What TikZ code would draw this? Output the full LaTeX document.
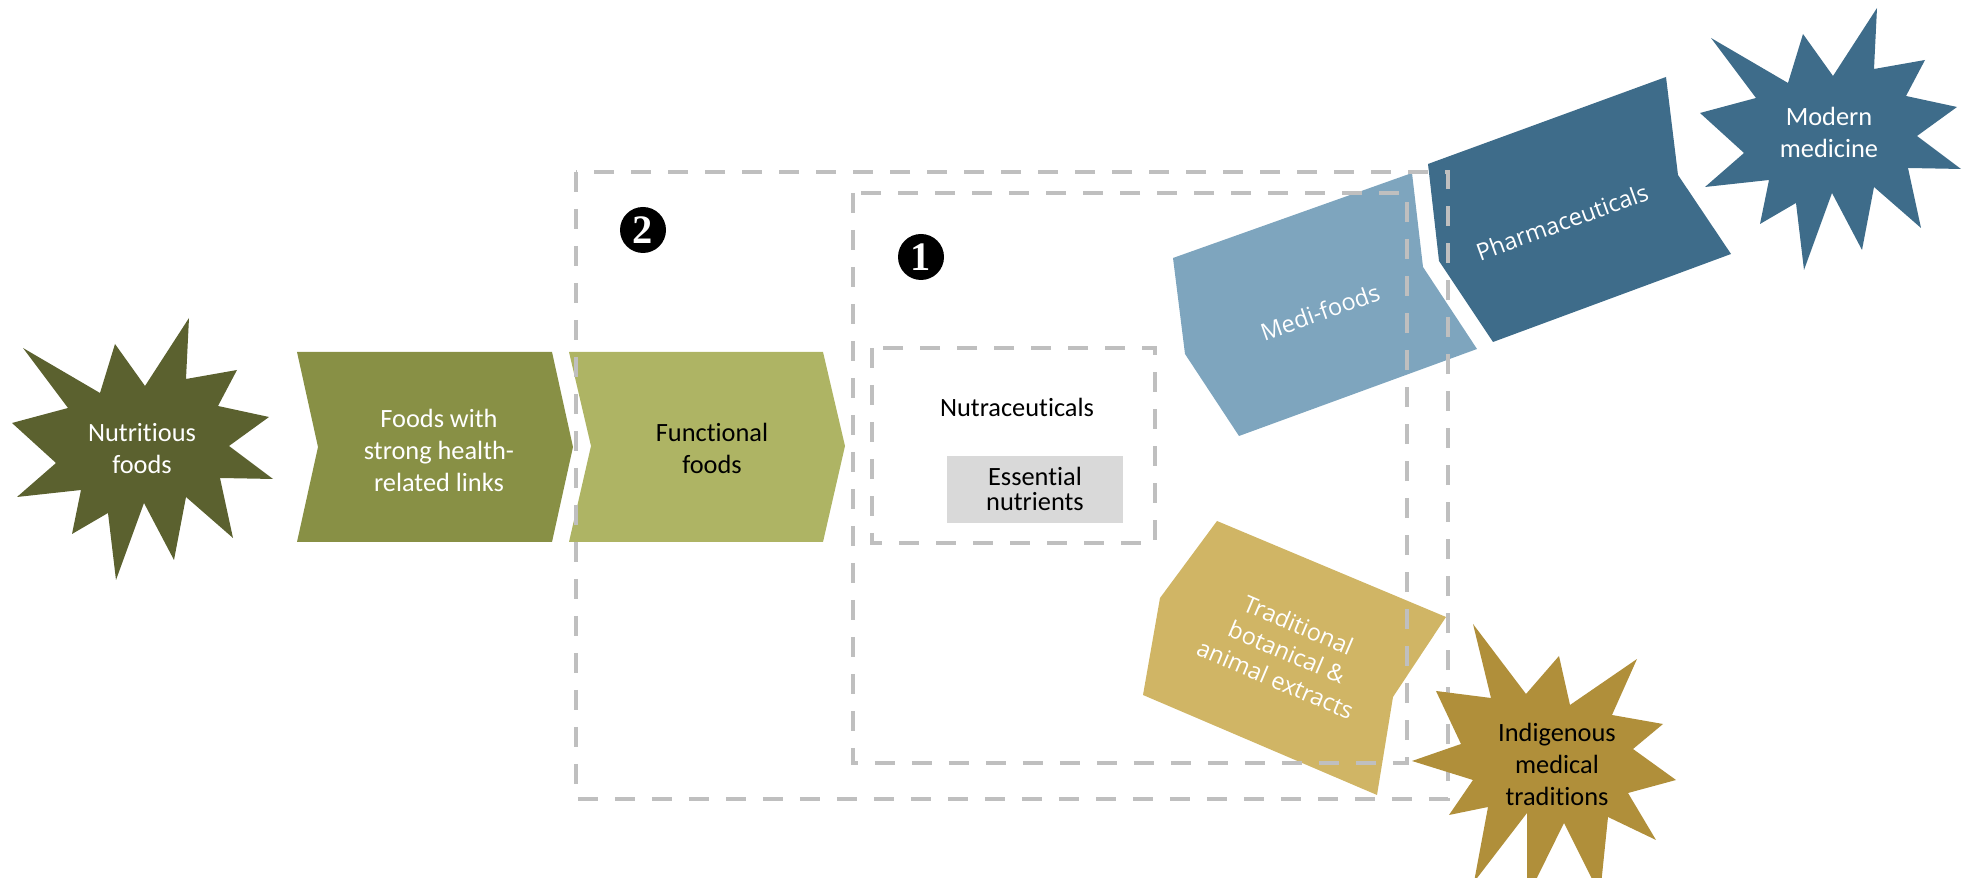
\documentclass[tikz,border=0pt]{standalone}
\usepackage{fontspec}
\setmainfont{Carlito}[Ligatures={NoCommon}]
\newfontfamily\medifont{Open Sans}[Ligatures={NoCommon}]
\newfontfamily\numfont{Liberation Serif}

\definecolor{olivedark}{HTML}{5B612F}
\definecolor{olivemid}{HTML}{889045}
\definecolor{olivelight}{HTML}{AEB464}
\definecolor{bluelight}{HTML}{7EA5BE}
\definecolor{bluedark}{HTML}{3E6C8A}
\definecolor{sand}{HTML}{D0B565}
\definecolor{ochre}{HTML}{B08F3A}
\definecolor{greybox}{HTML}{D9D9D9}
\definecolor{framegray}{HTML}{BFBFBF}

\begin{document}
\begin{tikzpicture}[x=0.1mm,y=-0.1mm,
    boxtext/.style={align=center,inner sep=0pt,font=\fontsize{7.5}{9.1}\selectfont},
    tighttext/.style={align=center,inner sep=0pt,font=\fontsize{7.5}{7}\selectfont},
    tilttext/.style={align=center,inner sep=0pt,text=white,font=\medifont\fontsize{6.7}{8.4}\selectfont},
    framebox/.style={draw=framegray,line width=0.4mm,dash pattern=on 2mm off 1.7mm},
    badge/.style={circle,fill=black,inner sep=0pt,minimum size=4.6mm,text=white,
        font=\numfont\bfseries\fontsize{11.5}{11.5}\selectfont}]
  \useasboundingbox (0,0) rectangle (1975,878);

  % explosion shapes
  \fill[olivedark] (23,348) -- (100,393) -- (115,344) -- (145,386) -- (189,318) -- (186,379)
    -- (237,370) -- (218,406) -- (269,417) -- (229,446) -- (273,479) -- (220,478)
    -- (233,538) -- (186,497) -- (174,560) -- (144,503) -- (116,580) -- (108,513)
    -- (72,534) -- (81,490) -- (17,497) -- (56,463) -- (12,423) -- (68,408) -- cycle;
  \fill[bluedark,shift={(1688,-310)}] (23,348) -- (100,393) -- (115,344) -- (145,386) -- (189,318) -- (186,379)
    -- (237,370) -- (218,406) -- (269,417) -- (229,446) -- (273,479) -- (220,478)
    -- (233,538) -- (186,497) -- (174,560) -- (144,503) -- (116,580) -- (108,513)
    -- (72,534) -- (81,490) -- (17,497) -- (56,463) -- (12,423) -- (68,408) -- cycle;

  % chevrons
  \fill[olivemid] (297,352) -- (552,352) -- (573,447) -- (552,542) -- (297,542) -- (318,447) -- cycle;
  \fill[olivelight] (569,352) -- (823,352) -- (845,446) -- (823,542) -- (569,542) -- (591,446) -- cycle;
  \fill[greybox] (947,456) rectangle (1123,523);

  % tilted chevrons
  \fill[bluelight] (1173,258) -- (1412,173) -- (1423,267) -- (1477,349) -- (1239,436) -- (1185,354) -- cycle;
  \fill[bluedark] (1428,164) -- (1666,77) -- (1678,175) -- (1731,254) -- (1493,342) -- (1439,261) -- cycle;
  \fill[sand] (1217,521) -- (1446,617) -- (1393,697) -- (1377,795) -- (1143,695) -- (1160,598) -- cycle;

  % dashed groups
  \draw[framebox] (576,172) rectangle (1448,799);
  \draw[framebox] (853,193) rectangle (1407,763);
  \draw[framebox] (872,348) rectangle (1155,543);

  \fill[ochre] (1436,691) -- (1491,698) -- (1473,624) -- (1526,694) -- (1559,656) -- (1570,705)
    -- (1637,659) -- (1612,715) -- (1663,724) -- (1633,749) -- (1676,780) -- (1628,793)
    -- (1656,840) -- (1608,817) -- (1600,895) -- (1564,823) -- (1527,898) -- (1527,813)
    -- (1474,882) -- (1488,807) -- (1449,815) -- (1473,780) -- (1412,761) -- (1461,744) -- cycle;

  % texts
  \node[boxtext,text=white] (nutri) at (142,449) {Nutritious\\foods};
  \node[boxtext,text=white] (links) at (439,450) {Foods with\\strong health-\\related links};
  \node[boxtext] (functional) at (712,448) {Functional\\foods};
  \node[boxtext] (nutra) at (1017,407) {Nutraceuticals};
  \node[tighttext] (essential) at (1035,489) {Essential\\nutrients};
  \node[tilttext,rotate=19.5] (medi) at (1320,312) {Medi-foods};
  \node[tilttext,rotate=20] (pharma) at (1562,222) {Pharmaceuticals};
  \node[tilttext,rotate=-23] (botanic) at (1287,652) {Traditional\\botanical \&\\animal extracts};
  \node[boxtext,text=white] (modern) at (1829,132) {Modern\\medicine};
  \node[boxtext] (indigenous) at (1557,764) {Indigenous\\medical\\traditions};
  \node[badge] (two) at (643,230) {2};
  \node[badge] (one) at (921,257) {1};
\end{tikzpicture}
\end{document}
